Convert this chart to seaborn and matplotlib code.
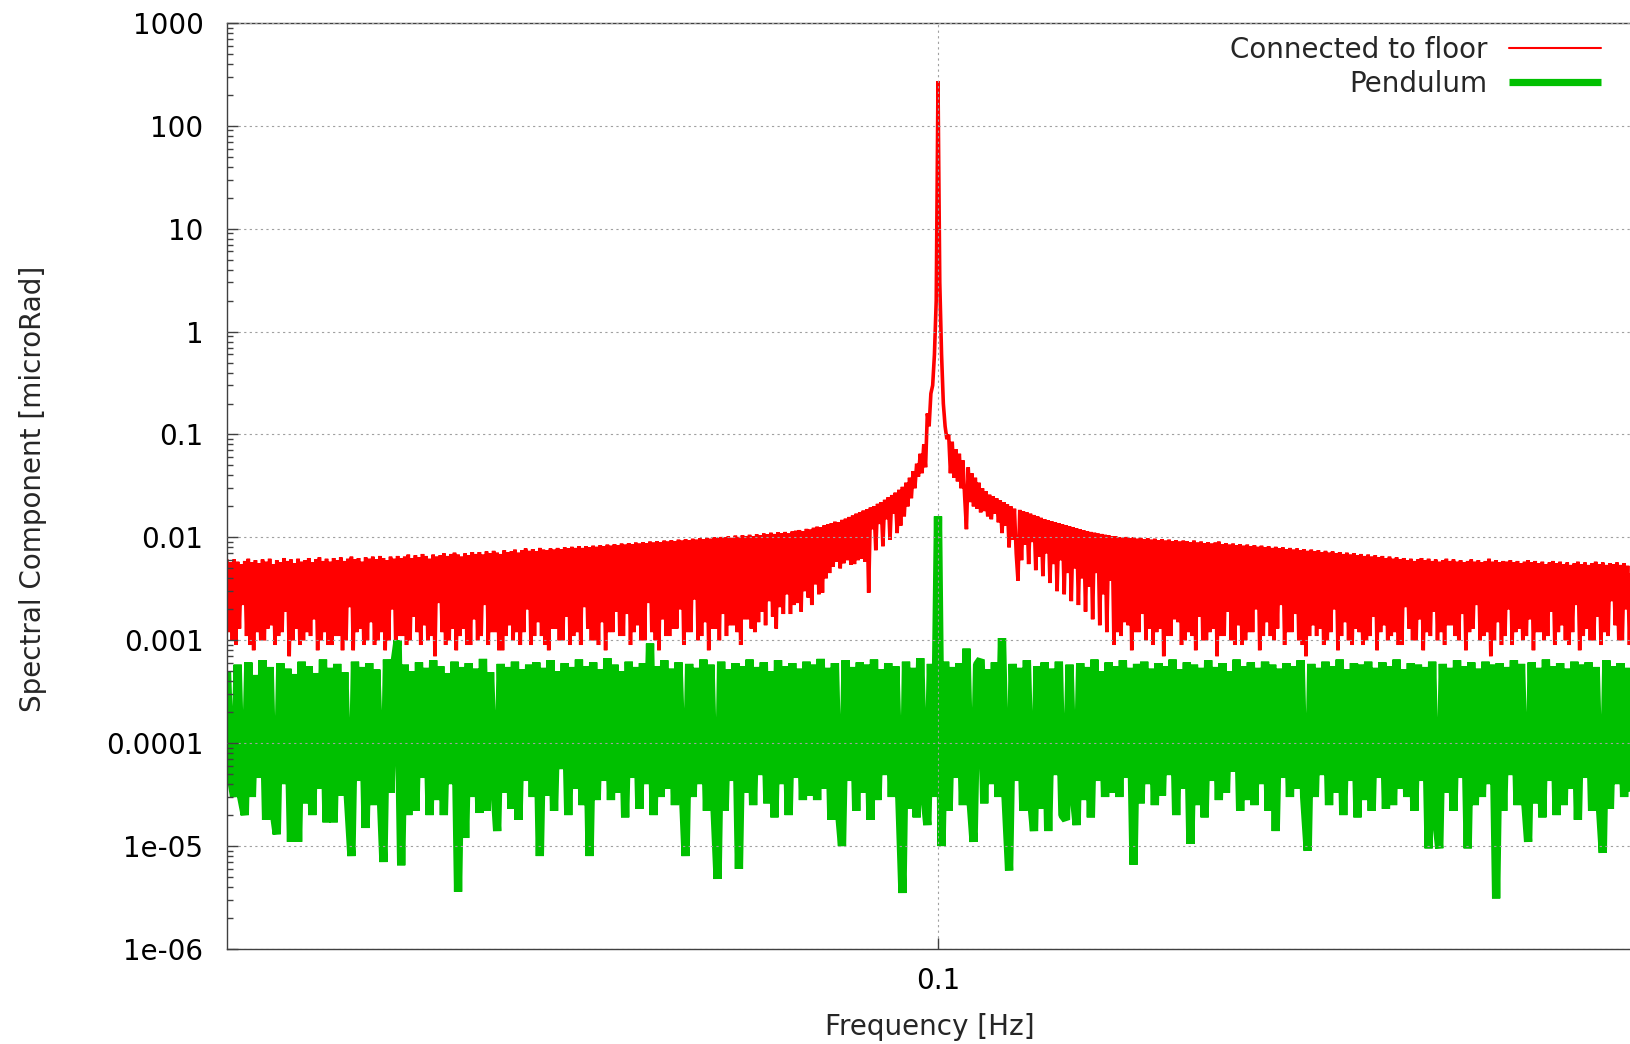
import numpy as np
import pandas as pd
import matplotlib
matplotlib.use("Agg")
import matplotlib.pyplot as plt
import matplotlib.ticker as mticker
import seaborn as sns

# FFT bin grids (Hz)
freq_start = 0.05
red_step = 0.000125
green_step = 0.00025

# "Connected to floor" spectrum, in units of 1e-4 microRad
red_e4 = [
    60, 12, 57, 10, 61, 9, 58, 13, 55, 22, 59, 11, 62, 9, 57, 8, 60, 12, 56, 10,
    61, 10, 58, 13, 62, 14, 55, 9, 60, 11, 57, 12, 63, 19, 59, 7, 61, 10, 56, 13,
    62, 9, 58, 10, 60, 12, 63, 11, 57, 16, 61, 8, 64, 10, 59, 12, 62, 9, 58, 9,
    63, 11, 60, 11, 64, 8, 59, 10, 62, 21, 65, 8, 61, 12, 63, 13, 58, 9, 64, 10,
    62, 15, 65, 9, 61, 10, 66, 12, 63, 8, 60, 10, 65, 20, 62, 8, 66, 11, 63, 11,
    65, 9, 68, 10, 63, 17, 67, 12, 64, 9, 69, 14, 66, 10, 62, 11, 68, 7, 65, 23,
    67, 12, 70, 9, 66, 10, 69, 13, 71, 8, 68, 11, 65, 13, 70, 9, 67, 9, 72, 16,
    69, 10, 72, 11, 68, 22, 73, 9, 70, 12, 74, 12, 71, 8, 69, 8, 75, 11, 72, 14,
    73, 10, 76, 12, 71, 9, 75, 12, 78, 20, 74, 9, 77, 11, 73, 15, 79, 11, 76, 9,
    75, 8, 78, 13, 76, 13, 79, 10, 77, 10, 80, 17, 78, 9, 81, 11, 79, 12, 82, 9,
    79, 21, 82, 13, 80, 10, 83, 10, 81, 9, 84, 15, 82, 8, 85, 12, 83, 12, 86, 19,
    84, 11, 87, 11, 85, 18, 88, 9, 86, 12, 89, 14, 87, 10, 90, 10, 88, 23, 91, 12,
    89, 10, 92, 8, 90, 16, 93, 11, 91, 11, 94, 13, 92, 13, 95, 20, 93, 9, 96, 12,
    94, 12, 97, 25, 95, 10, 98, 11, 96, 15, 99, 8, 97, 13, 100, 13, 98, 10, 101, 18,
    100, 11, 102, 14, 99, 14, 104, 12, 101, 9, 105, 16, 103, 16, 106, 13, 102, 12, 107, 15,
    105, 19, 109, 14, 107, 24, 111, 17, 108, 13, 112, 21, 110, 18, 113, 28, 109, 18, 114, 22,
    116, 23, 118, 19, 115, 30, 121, 26, 119, 22, 124, 35, 127, 28, 125, 29, 131, 40, 134, 45,
    137, 52, 142, 58, 140, 50, 148, 56, 152, 60, 158, 54, 163, 55, 170, 60, 176, 62, 182, 58,
    188, 29, 195, 120, 200, 75, 212, 135, 220, 82, 232, 150, 245, 95, 258, 170, 272, 110, 290, 130,
    310, 160, 340, 200, 380, 240, 440, 300, 520, 390, 650, 420, 800, 480, 1600, 1200, 2500, 3000, 6000, 20000,
    2700000, 30000, 6000, 2000, 1200, 900, 1000, 420, 850, 380, 720, 350, 650, 300, 560, 250, 120, 480, 220, 420,
    200, 380, 190, 340, 175, 300, 180, 280, 160, 260, 150, 250, 170, 240, 140, 230, 110, 220, 130, 210,
    80, 200, 95, 190, 70, 38, 185, 60, 180, 85, 175, 55, 170, 90, 165, 48, 160, 65, 155, 42,
    150, 70, 146, 36, 143, 55, 140, 30, 137, 60, 134, 28, 131, 45, 128, 24, 126, 50, 122, 22,
    120, 40, 117, 19, 115, 33, 113, 16, 111, 45, 109, 14, 108, 28, 106, 12, 105, 38, 103, 9,
    102, 12, 100, 11, 99, 15, 101, 14, 98, 8, 100, 12, 97, 12, 99, 18, 96, 10, 98, 13,
    95, 9, 97, 12, 94, 13, 96, 7, 93, 11, 95, 11, 92, 16, 94, 15, 91, 9, 93, 10,
    92, 12, 90, 11, 93, 8, 89, 17, 91, 10, 88, 10, 90, 12, 87, 13, 89, 7, 91, 11,
    86, 11, 88, 19, 85, 10, 87, 9, 84, 14, 86, 9, 83, 10, 85, 12, 82, 12, 84, 20,
    81, 8, 83, 11, 80, 15, 82, 11, 79, 10, 81, 13, 78, 22, 80, 9, 77, 12, 79, 12,
    76, 18, 78, 10, 75, 9, 77, 7, 74, 11, 76, 14, 73, 11, 75, 13, 72, 9, 74, 10,
    71, 12, 73, 20, 70, 8, 72, 11, 69, 15, 71, 10, 68, 9, 70, 13, 67, 12, 69, 9,
    66, 10, 68, 11, 65, 17, 67, 8, 64, 12, 66, 14, 63, 10, 65, 11, 62, 12, 64, 9,
    61, 9, 63, 21, 60, 13, 62, 10, 59, 10, 61, 16, 63, 8, 60, 12, 62, 11, 59, 19,
    61, 10, 58, 12, 60, 9, 62, 14, 59, 14, 61, 11, 58, 10, 60, 18, 57, 8, 59, 12,
    61, 13, 58, 22, 60, 10, 57, 11, 59, 12, 62, 7, 58, 10, 60, 15, 57, 9, 59, 11,
    58, 20, 60, 9, 57, 12, 59, 13, 56, 10, 58, 11, 60, 16, 57, 8, 59, 12, 56, 12,
    58, 10, 55, 11, 57, 19, 59, 9, 56, 12, 58, 14, 55, 10, 57, 9, 54, 12, 56, 22,
    58, 8, 55, 11, 57, 13, 54, 10, 56, 10, 58, 17, 55, 9, 57, 12, 54, 11, 56, 24,
    55, 14, 57, 10, 54, 10, 56, 20, 53, 9, 55, 12,
]

# "Pendulum" spectrum, in units of 1e-6 microRad
green_e6 = [
    500, 49, 30, 580, 30, 20, 610, 30, 460, 46, 640, 18, 550, 23, 13, 600, 40, 530, 11, 470,
    11, 620, 26, 560, 20, 480, 36, 650, 17, 540, 17, 590, 31, 490, 30, 8, 620, 43, 550, 15,
    600, 25, 520, 53, 7, 650, 33, 560, 1000, 6.5, 580, 20, 500, 22, 610, 46, 540, 20, 640, 28,
    560, 20, 480, 40, 620, 3.6, 550, 12, 600, 30, 530, 21, 660, 22, 490, 49, 14, 590, 33, 550,
    23, 620, 18, 520, 43, 580, 30, 610, 8, 540, 31, 640, 22, 500, 56, 600, 20, 550, 36, 650,
    25, 560, 8, 610, 28, 520, 43, 670, 28, 580, 33, 500, 19, 620, 46, 550, 23, 600, 40, 930,
    20, 560, 30, 640, 36, 530, 25, 610, 53, 8, 590, 30, 540, 40, 650, 22, 580, 30, 4.8, 620,
    22, 520, 43, 600, 6, 560, 33, 650, 25, 550, 49, 610, 26, 500, 19, 640, 40, 560, 20, 600,
    46, 530, 28, 620, 31, 580, 28, 660, 36, 540, 18, 600, 25, 10, 640, 43, 550, 22, 610, 33,
    580, 18, 650, 28, 520, 49, 600, 30, 560, 40, 3.5, 620, 23, 540, 19, 670, 36, 16, 590, 30,
    16000, 10, 620, 22, 550, 46, 600, 25, 830, 33, 11, 580, 650, 26, 520, 40, 610, 30, 1050, 30,
    5.8, 590, 43, 540, 22, 640, 33, 14, 560, 23, 610, 14, 530, 49, 620, 20, 18, 580, 36, 16,
    600, 28, 550, 19, 650, 43, 500, 30, 610, 33, 560, 30, 640, 46, 540, 6.6, 590, 26, 620, 40,
    530, 25, 600, 31, 560, 49, 650, 20, 520, 36, 610, 10.5, 580, 25, 540, 19, 640, 43, 550, 28,
    600, 33, 500, 53, 650, 22, 560, 28, 610, 25, 540, 40, 620, 22, 580, 14, 530, 46, 600, 30,
    560, 36, 640, 30, 9, 590, 30, 540, 49, 620, 25, 560, 33, 650, 20, 520, 43, 600, 19, 580,
    28, 620, 22, 540, 46, 610, 23, 560, 25, 650, 36, 520, 30, 600, 22, 580, 43, 550, 9.5, 620,
    20, 9.5, 590, 33, 540, 22, 640, 46, 560, 9.5, 610, 25, 530, 30, 620, 40, 580, 3.1, 600, 22,
    550, 49, 640, 25, 590, 33, 11, 610, 26, 540, 19, 650, 43, 560, 20, 600, 25, 530, 36, 620,
    18, 580, 46, 610, 22, 550, 31, 8.6, 640, 23, 560, 40, 600, 30, 540, 28,
]

series_labels = ["Connected to floor", "Pendulum"]
y_tick_values = [1e-6, 1e-5, 1e-4, 1e-3, 1e-2, 1e-1, 1, 10, 100, 1000]
y_tick_labels = ["1e-06", "1e-05", "0.0001", "0.001", "0.01", "0.1", "1", "10", "100", "1000"]
x_tick_values = [0.1]
x_tick_labels = ["0.1"]

red = pd.DataFrame({
    "freq": freq_start + red_step * np.arange(len(red_e4)),
    "amp": np.array(red_e4, dtype=float) * 1e-4,
})
green = pd.DataFrame({
    "freq": freq_start + green_step * np.arange(len(green_e6)),
    "amp": np.array(green_e6, dtype=float) * 1e-6,
})

sns.set_theme(style="ticks")
plt.rcParams["font.family"] = ["DejaVu Sans"]
plt.rcParams["axes.edgecolor"] = "#404040"

fig = plt.figure(figsize=(16.3, 10.44), dpi=100)
ax = fig.add_axes([0.13926, 0.0910, 0.8669, 0.8871])

# dense spectrum: a slightly wider line so the band reads solid like the original
sns.lineplot(data=red, x="freq", y="amp", ax=ax, color="#ff0000", linewidth=2.6,
             label=series_labels[0], estimator=None, solid_joinstyle="bevel")
sns.lineplot(data=green, x="freq", y="amp", ax=ax, color="#00c000", linewidth=6.0,
             label=series_labels[1], estimator=None, solid_joinstyle="bevel",
             solid_capstyle="butt")

ax.set_yscale("log")
ax.set_ylim(1e-6, 1000)
ax.set_xlim(0.05, 0.14937)

ax.set_yticks(y_tick_values)
ax.set_yticklabels(y_tick_labels)
ax.yaxis.set_minor_locator(mticker.LogLocator(base=10, subs=np.arange(2, 10), numticks=20))
ax.yaxis.set_minor_formatter(mticker.NullFormatter())
ax.set_xticks(x_tick_values)
ax.set_xticklabels(x_tick_labels)
ax.xaxis.set_minor_locator(mticker.NullLocator())

ax.tick_params(axis="both", which="major", direction="in", length=8, width=1,
               color="#404040", labelsize=20, labelcolor="black")
ax.tick_params(axis="y", which="major", pad=17)
ax.tick_params(axis="x", which="major", pad=13)
ax.tick_params(axis="y", which="minor", direction="in", length=4.5, width=1, color="#404040")
ax.tick_params(top=False, right=False, which="both")

for side in ["left", "bottom", "top", "right"]:
    ax.spines[side].set_linewidth(1.0)
    ax.spines[side].set_color("#404040")

ax.set_axisbelow(False)
ax.grid(True, which="major", axis="both", color="#a0a0a0", linewidth=0.8,
        linestyle=(0, (2, 3)))

ax.set_xlabel("Frequency [Hz]", fontsize=20, va="center")
ax.xaxis.set_label_coords(0.4975, -0.0842)
ax.set_ylabel("Spectral Component [microRad]", fontsize=20, va="center", ha="center")
ax.yaxis.set_label_coords(-0.1373, 0.4967)

leg = ax.legend(loc="upper right", bbox_to_anchor=(1601 / 1630, 1 - 36 / 1044),
                bbox_transform=fig.transFigure, frameon=False, markerfirst=False,
                fontsize=20, handlelength=3.3, handletextpad=0.8, labelspacing=0.2,
                borderpad=0, borderaxespad=0)
leg.get_lines()[0].set_linewidth(1.5)
leg.get_lines()[1].set_linewidth(5.2)

fig.savefig("out.png", dpi=100)
